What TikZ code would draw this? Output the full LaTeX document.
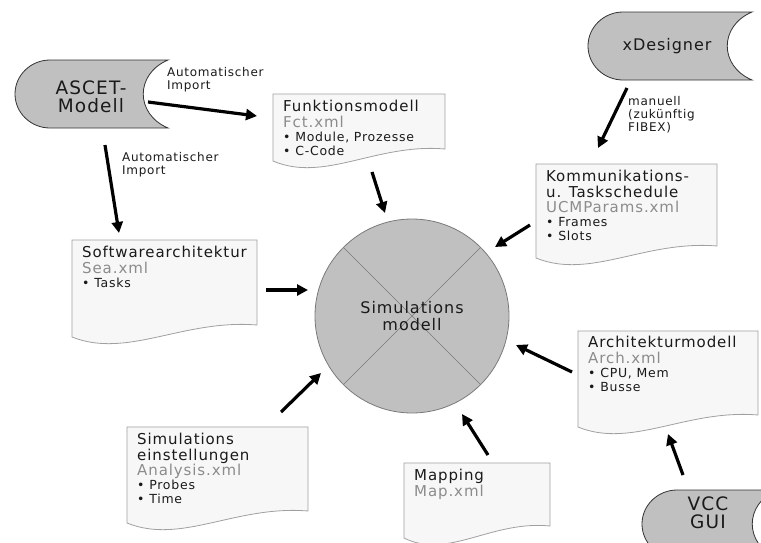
\documentclass[tikz,border=0pt]{standalone}
\usepackage{fontspec}
\setmainfont{DejaVu Sans}[LetterSpace=6]
\usetikzlibrary{arrows.meta,positioning}

\definecolor{datagray}{HTML}{C0C0C0}
\definecolor{docfill}{HTML}{F7F7F7}
\definecolor{docline}{HTML}{A0A0A0}
\definecolor{circline}{HTML}{7A7A7A}
\definecolor{xmlgray}{HTML}{8C8C8C}
\definecolor{ink}{HTML}{1A1A1A}

% document sheet: x, y, width, height (left edge)
\newcommand{\docsheet}[4]{%
  \filldraw[docbox] (#1,#2) -- ({#1+#3},#2) -- ({#1+#3},{#2+#4-12})
    .. controls ({#1+0.6*#3},{#2+#4-18}) and ({#1+0.3*#3},{#2+#4+22}) .. (#1,{#2+#4}) -- cycle;}
% stored data: left, top, right, bottom
\newcommand{\datastore}[4]{%
  \filldraw[storebox] ({#1+35},#2) -- (#3,#2)
    .. controls ({#3-33},{#2+14}) and ({#3-33},{#4-14}) .. (#3,#4) -- ({#1+35},#4)
    .. controls ({#1+16},#4) and (#1,{(#2+#4)/2+19}) .. (#1,{(#2+#4)/2})
    .. controls (#1,{(#2+#4)/2-19}) and ({#1+16},#2) .. ({#1+35},#2) -- cycle;}
\newcommand{\xml}[1]{{\color{xmlgray}#1}}
\newcommand{\punkt}[1]{{\fontsize{12.5pt}{14pt}\selectfont\textbullet\ #1}}

\begin{document}
\begin{tikzpicture}[x=1pt,y=-1pt,
    docbox/.style={fill=docfill,draw=docline,line width=0.8pt},
    storebox/.style={fill=datagray,draw=black!80,line width=0.8pt},
    doctext/.style={anchor=north west,inner sep=0pt,align=left,text=ink,font=\fontsize{15}{15.5}\selectfont},
    storetext/.style={inner sep=0pt,align=center,text=ink,font=\fontsize{18.5}{18.5}\selectfont},
    hinweis/.style={anchor=north west,inner sep=0pt,align=left,text=ink,font=\fontsize{12}{13}\selectfont},
    pfeil/.style={line width=3.2pt,-{Triangle[length=11pt,width=11pt]}},
    simkreis/.style={circle,minimum size=194pt,inner sep=0pt,fill=datagray,draw=circline,line width=0.8pt,
      align=center,text=ink,font=\fontsize{16}{17}\selectfont,
      path picture={\draw[circline,line width=0.6pt]
        (path picture bounding box.north west) -- (path picture bounding box.south east)
        (path picture bounding box.north east) -- (path picture bounding box.south west);}}]
  \useasboundingbox (0,0) rectangle (761,542);

  % quellen
  \datastore{15}{60}{168}{128}
  \node[storetext] (ascet) at (91,97) {ASCET-\\Modell};
  \datastore{588}{12}{752}{80}
  \node[storetext,font=\fontsize{16}{17}\selectfont] (xdesigner) at (667,46) {xDesigner};
  \datastore{642}{490}{777}{558}
  \node[storetext] (vcc) at (708,513) {VCC\\GUI};

  % dateien
  \docsheet{273}{94}{172}{67}
  \node[doctext] (fct) at (283,100) {Funktionsmodell\\ \xml{Fct.xml}\\[-1.5pt] \punkt{Module, Prozesse}\\[-1.5pt] \punkt{C-Code}};
  \docsheet{72}{240}{185}{97}
  \node[doctext] (sea) at (82,246) {Softwarearchitektur\\ \xml{Sea.xml}\\[-1.5pt] \punkt{Tasks}};
  \docsheet{536}{164}{181}{94}
  \node[doctext] (ucm) at (546,170) {Kommunikations-\\u. Taskschedule\\ \xml{UCMParams.xml}\\[-1.5pt] \punkt{Frames}\\[-1.5pt] \punkt{Slots}};
  \docsheet{578}{331}{180}{96}
  \node[doctext] (arch) at (588,336) {Architekturmodell\\ \xml{Arch.xml}\\[-1.5pt] \punkt{CPU, Mem}\\[-1.5pt] \punkt{Busse}};
  \docsheet{127}{427}{181}{96}
  \node[doctext] (analysis) at (137,433) {Simulations\\einstellungen\\ \xml{Analysis.xml}\\[-1.5pt] \punkt{Probes}\\[-1.5pt] \punkt{Time}};
  \docsheet{404}{463}{146}{75}
  \node[doctext] (map) at (414,469) {Mapping\\ \xml{Map.xml}};

  \node[simkreis] (sim) at (412,316) {Simulations\\modell};

  % pfeile
  \coordinate (ascet-r) at (148,102);
  \coordinate (fct-l) at (257,116);
  \coordinate (ascet-b) at (105,145);
  \coordinate (sea-t) at (119,233);
  \coordinate (fct-b) at (372,172);
  \coordinate (sim-n) at (385,213);
  \coordinate (xdesigner-b) at (627,88);
  \coordinate (ucm-t) at (598,148);
  \coordinate (ucm-l) at (530,225);
  \coordinate (sim-ne) at (495,247);
  \coordinate (sea-r) at (266,290);
  \coordinate (sim-w) at (308,290);
  \coordinate (arch-l) at (572,372);
  \coordinate (sim-e) at (516,345);
  \coordinate (vcc-t) at (683,475);
  \coordinate (arch-b) at (668,434);
  \coordinate (map-t) at (488,455);
  \coordinate (sim-s) at (462,414);
  \coordinate (analysis-t) at (281,412);
  \coordinate (sim-sw) at (321,373);

  \draw[pfeil] (ascet-r) -- (fct-l);
  \draw[pfeil] (ascet-b) -- (sea-t);
  \draw[pfeil] (fct-b) -- (sim-n);
  \draw[pfeil] (xdesigner-b) -- (ucm-t);
  \draw[pfeil] (ucm-l) -- (sim-ne);
  \draw[pfeil] (sea-r) -- (sim-w);
  \draw[pfeil] (arch-l) -- (sim-e);
  \draw[pfeil] (vcc-t) -- (arch-b);
  \draw[pfeil] (map-t) -- (sim-s);
  \draw[pfeil] (analysis-t) -- (sim-sw);

  \node[hinweis] (import1) at (167,67) {Automatischer\\Import};
  \node[hinweis] (import2) at (122,152) {Automatischer\\Import};
  \node[hinweis] (manuell) at (628,96) {manuell\\(zukünftig\\FIBEX)};
\end{tikzpicture}
\end{document}
